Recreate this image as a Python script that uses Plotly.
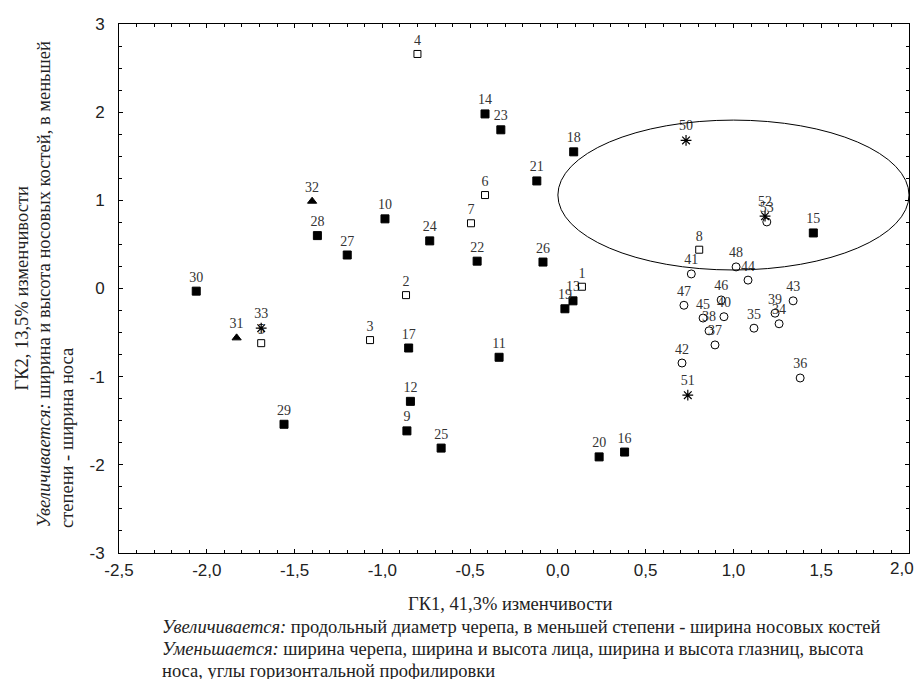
import plotly.graph_objects as go

# ---- data ----
filled_labels = ["30", "28", "27", "10", "24", "22", "14", "23", "21", "18", "26", "13", "19",
                 "17", "11", "12", "9", "29", "25", "20", "16", "15"]
filled_x = [-2.06, -1.37, -1.20, -0.985, -0.73, -0.46, -0.415, -0.325, -0.12, 0.09, -0.085, 0.086, 0.04,
            -0.85, -0.335, -0.84, -0.86, -1.56, -0.665, 0.235, 0.38, 1.455]
filled_y = [-0.03, 0.60, 0.38, 0.79, 0.54, 0.31, 1.98, 1.80, 1.22, 1.55, 0.30, -0.14, -0.23,
            -0.675, -0.78, -1.28, -1.615, -1.54, -1.81, -1.91, -1.855, 0.63]

open_sq_labels = ["4", "6", "7", "8", "2", "3", "5", "1"]
open_sq_x = [-0.80, -0.415, -0.495, 0.805, -0.865, -1.07, -1.69, 0.137]
open_sq_y = [2.66, 1.06, 0.74, 0.44, -0.075, -0.585, -0.62, 0.02]

tri_labels = ["32", "31"]
tri_x = [-1.40, -1.83]
tri_y = [0.99, -0.56]

star_labels = ["50", "51", "52", "33"]
star_x = [0.73, 0.74, 1.18, -1.69]
star_y = [1.68, -1.21, 0.82, -0.45]

circ_labels = ["41", "48", "44", "47", "46", "40", "45", "38", "37", "35", "39", "34",
               "43", "42", "36", "53"]
circ_x = [0.76, 1.015, 1.083, 0.718, 0.93, 0.946, 0.827, 0.861, 0.895, 1.117, 1.237, 1.26,
          1.34, 0.707, 1.38, 1.19]
circ_y = [0.165, 0.245, 0.095, -0.19, -0.13, -0.32, -0.335, -0.48, -0.64, -0.45, -0.28, -0.40,
          -0.14, -0.845, -1.015, 0.755]

x_ticks = [-2.5, -2.0, -1.5, -1.0, -0.5, 0.0, 0.5, 1.0, 1.5, 2.0]
x_ticktext = ["-2,5", "-2,0", "-1,5", "-1,0", "-0,5", "0,0", "0,5", "1,0", "1,5", "2,0"]
y_ticks = [-3, -2, -1, 0, 1, 2, 3]
y_ticktext = ["-3", "-2", "-1", "0", "1", "2", "3"]

ellipse_x = (0.0, 2.0)
ellipse_y = (0.21, 1.91)

# ---- figure ----
label_font = dict(family="Liberation Serif", size=14, color="#333333")
tick_font = dict(family="Liberation Sans", size=17, color="#222222")
fig = go.Figure()

def add(xs, ys, labels, symbol, size, fill, lw=1):
    fig.add_trace(go.Scatter(
        x=xs, y=ys, text=labels, mode="markers+text", textposition="top center",
        textfont=label_font, cliponaxis=False,
        marker=dict(symbol=symbol, size=size, color=fill,
                    line=dict(color="black", width=lw)),
        showlegend=False, hoverinfo="skip"))

add(filled_x, filled_y, filled_labels, "square", 8, "black")
add(open_sq_x, open_sq_y, open_sq_labels, "square-open", 7, "black")
add(tri_x, tri_y, tri_labels, "triangle-up", 8, "black")
add(star_x, star_y, star_labels, "asterisk-open", 9, "black", 1.2)
add(circ_x, circ_y, circ_labels, "circle-open", 8, "black")

fig.add_shape(type="circle", xref="x", yref="y",
              x0=ellipse_x[0], x1=ellipse_x[1], y0=ellipse_y[0], y1=ellipse_y[1],
              line=dict(color="black", width=1))

axis_common = dict(showgrid=False, zeroline=False, showline=True, linecolor="black", linewidth=1,
                   mirror="allticks", ticks="inside", ticklen=4, tickcolor="black",
                   tickfont=tick_font)
# the last x label sits at the page edge; it is drawn right-aligned as an annotation
# so that it stays inside the figure
fig.update_xaxes(range=[-2.5, 2.0], tickvals=x_ticks, ticktext=x_ticktext[:-1] + [""],
                 ticklabelstandoff=2,
                 minor=dict(dtick=0.1, tick0=0, ticks="inside", ticklen=3, tickcolor="black"),
                 **axis_common)
fig.update_yaxes(range=[-3, 3], tickvals=y_ticks, ticktext=y_ticktext, ticklabelstandoff=10,
                 minor=dict(dtick=0.25, tick0=0, ticks="inside", ticklen=3, tickcolor="black"),
                 **axis_common)

fig.add_annotation(xref="paper", yref="paper", x=1.0089, y=-0.0302, xanchor="right",
                   yanchor="middle", text=x_ticktext[-1], showarrow=False, font=tick_font)

tf = dict(family="Liberation Serif", size=18.5, color="#222222")
ann = [
    dict(text="ГК1, 41,3% изменчивости", x=0.495, y=-0.0964, xanchor="center", yanchor="middle"),
    dict(text="<i>Увеличивается:</i> продольный диаметр черепа, в меньшей степени - ширина носовых костей",
         x=0.052, y=-0.1399, xanchor="left", yanchor="middle"),
    dict(text="<i>Уменьшается:</i> ширина черепа, ширина и высота лица, ширина и высота глазниц, высота",
         x=0.052, y=-0.1815, xanchor="left", yanchor="middle"),
    dict(text="носа, углы горизонтальной профилировки",
         x=0.052, y=-0.2231, xanchor="left", yanchor="middle"),
    dict(text="ГК2, 13,5% изменчивости", x=-0.124, y=0.5, xanchor="center", yanchor="middle",
         textangle=-90),
    dict(text="<i>Увеличивается:</i> ширина и высота носовых костей, в меньшей",
         x=-0.0949, y=0.0435, xanchor="center", yanchor="bottom", textangle=-90),
    dict(text="степени - ширина носа",
         x=-0.0659, y=0.0435, xanchor="center", yanchor="bottom", textangle=-90),
]
for a in ann:
    fig.add_annotation(xref="paper", yref="paper", showarrow=False, font=tf, **a)

# the page body keeps its default 8px margin on every side; size the figure so the
# whole page is exactly the 924x687 window
fig.update_layout(width=908, height=671, margin=dict(l=111, r=7, t=16, b=126),
                  plot_bgcolor="white", paper_bgcolor="white")

fig.write_html("out.html", config={"displayModeBar": False})
